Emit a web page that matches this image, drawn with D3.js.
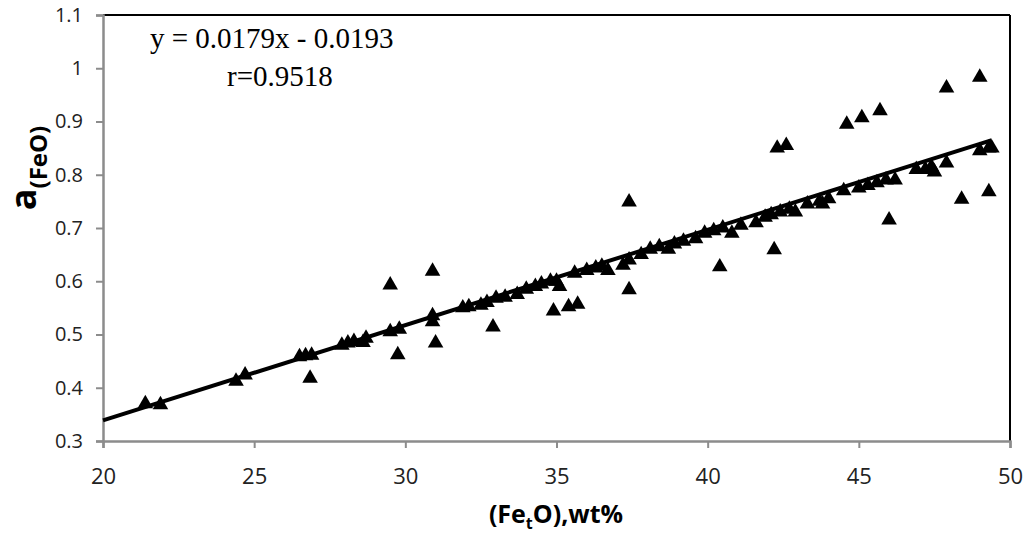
<!DOCTYPE html>
<html>
<head>
<meta charset="utf-8">
<script src="https://cdn.jsdelivr.net/npm/d3@7"></script>
<style>
  body { margin: 0; background: #fff; }
  .tick text { font-family: "Open Sans", sans-serif; fill: #222; }
</style>
</head>
<body>
<div id="chart"></div>
<script>
// data
var feo = [21.4, 21.9, 24.4, 24.7, 26.5, 26.7, 26.9, 26.85, 27.9, 28.1, 28.3, 28.6, 28.7,
  29.5, 29.5, 29.75, 29.8, 30.9, 30.9, 30.9, 31.0, 31.9, 32.1, 32.5, 32.7, 32.9, 33.0,
  33.3, 33.7, 34.0, 34.3, 34.5, 34.8, 35.0, 35.1, 34.9, 35.4, 35.7, 35.6, 36.0, 36.3,
  36.5, 36.7, 37.2, 37.4, 37.4, 37.4, 37.8, 38.1, 38.4, 38.7, 38.9, 39.2, 39.6, 39.9,
  40.2, 40.5, 40.4, 40.8, 41.1, 41.6, 41.9, 42.1, 42.2, 42.3, 42.6, 42.4, 42.7, 42.9,
  43.3, 43.7, 43.8, 44.0, 44.5, 44.6, 45.1, 45.0, 45.3, 45.6, 45.7, 45.9, 46.0, 46.2,
  46.9, 47.2, 47.4, 47.5, 47.9, 47.9, 48.4, 49.0, 49.0, 49.3, 49.4, 49.3];
var aFeo = [0.370, 0.368, 0.412, 0.424, 0.458, 0.460, 0.461, 0.418, 0.480, 0.484, 0.487, 0.485, 0.493,
  0.593, 0.505, 0.462, 0.510, 0.619, 0.535, 0.524, 0.484, 0.550, 0.552, 0.555, 0.560, 0.514, 0.568,
  0.570, 0.575, 0.585, 0.590, 0.595, 0.600, 0.600, 0.590, 0.544, 0.552, 0.557, 0.615, 0.620, 0.625,
  0.628, 0.620, 0.630, 0.640, 0.749, 0.584, 0.650, 0.660, 0.665, 0.660, 0.670, 0.675, 0.680, 0.690,
  0.695, 0.700, 0.627, 0.690, 0.705, 0.710, 0.720, 0.725, 0.659, 0.850, 0.855, 0.730, 0.735, 0.730,
  0.745, 0.750, 0.745, 0.755, 0.770, 0.895, 0.907, 0.775, 0.780, 0.785, 0.920, 0.790, 0.715, 0.790,
  0.810, 0.810, 0.815, 0.805, 0.822, 0.963, 0.754, 0.983, 0.845, 0.850, 0.850, 0.768];
var xTicks = [20, 25, 30, 35, 40, 45, 50];
var yTicks = [0.3, 0.4, 0.5, 0.6, 0.7, 0.8, 0.9, 1, 1.1];
var slope = 0.0179, intercept = -0.0193;
var fitRange = [20, 49.4];

var w = 1027, h = 537;
var plotLeft = 103, plotRight = 1010, plotTop = 15, plotBottom = 441;

var svg = d3.select("#chart").append("svg")
  .attr("width", w)
  .attr("height", h);

var xScale = d3.scaleLinear().domain([20, 50]).range([plotLeft, plotRight]);
var yScale = d3.scaleLinear().domain([0.3, 1.1]).range([plotBottom, plotTop]);

// top and right frame lines
svg.append("line")
  .attr("x1", plotLeft).attr("x2", plotRight).attr("y1", plotTop).attr("y2", plotTop)
  .attr("stroke", "#000").attr("stroke-width", 2);
svg.append("line")
  .attr("x1", plotRight).attr("x2", plotRight).attr("y1", plotTop).attr("y2", plotBottom)
  .attr("stroke", "#000").attr("stroke-width", 2);

var xAxis = d3.axisBottom(xScale).tickValues(xTicks).tickSize(7).tickPadding(20)
  .tickFormat(d3.format("d"));
var yAxis = d3.axisLeft(yScale).tickValues(yTicks).tickSize(7).tickPadding(13)
  .tickFormat(function(d) { return String(d); });

var gx = svg.append("g")
  .attr("transform", "translate(0," + plotBottom + ")")
  .call(xAxis);
var gy = svg.append("g")
  .attr("transform", "translate(" + plotLeft + ",0)")
  .call(yAxis);

[gx, gy].forEach(function(g) {
  g.select(".domain").attr("stroke", "#8c8c8c").attr("stroke-width", 2.5);
  g.selectAll(".tick line").attr("stroke", "#8c8c8c").attr("stroke-width", 2);
});
gx.selectAll(".tick text").style("font-size", "22px");
gy.selectAll(".tick text").style("font-size", "20px");

// regression line
svg.append("line")
  .attr("x1", xScale(fitRange[0]))
  .attr("y1", yScale(slope * fitRange[0] + intercept))
  .attr("x2", xScale(fitRange[1]))
  .attr("y2", yScale(slope * fitRange[1] + intercept))
  .attr("stroke", "#000")
  .attr("stroke-width", 4);

// triangles
var tri = d3.symbol().type(d3.symbolTriangle).size(105);
svg.selectAll("path.pt")
  .data(feo)
  .enter()
  .append("path")
  .attr("class", "pt")
  .attr("d", tri)
  .attr("transform", function(d, i) {
    return "translate(" + xScale(d) + "," + yScale(aFeo[i]) + ")";
  })
  .attr("fill", "#000");

// equation text
svg.append("text")
  .attr("x", 150).attr("y", 48)
  .style("font-family", "'Liberation Serif', 'Times New Roman', serif")
  .style("font-size", "29px")
  .text("y = 0.0179x  - 0.0193");
svg.append("text")
  .attr("x", 227).attr("y", 86)
  .style("font-family", "'Liberation Serif', 'Times New Roman', serif")
  .style("font-size", "29px")
  .text("r=0.9518");

// x axis title
var xt = svg.append("text")
  .attr("x", 556).attr("y", 523)
  .attr("text-anchor", "middle")
  .style("font-family", "'Open Sans', sans-serif")
  .style("font-weight", "bold")
  .style("font-size", "25px");
xt.append("tspan").text("(Fe");
xt.append("tspan").attr("font-size", "16px").attr("dy", "6").text("t");
xt.append("tspan").attr("dy", "-6").text("O),wt%");

// y axis title
var yt = svg.append("text")
  .attr("transform", "translate(36,168) rotate(-90)")
  .attr("text-anchor", "middle")
  .style("font-family", "'Open Sans', sans-serif")
  .style("font-weight", "bold");
yt.append("tspan").attr("font-size", "36px").text("a");
yt.append("tspan").attr("font-size", "24px").attr("dy", "11").text("(FeO)");
</script>
</body>
</html>
